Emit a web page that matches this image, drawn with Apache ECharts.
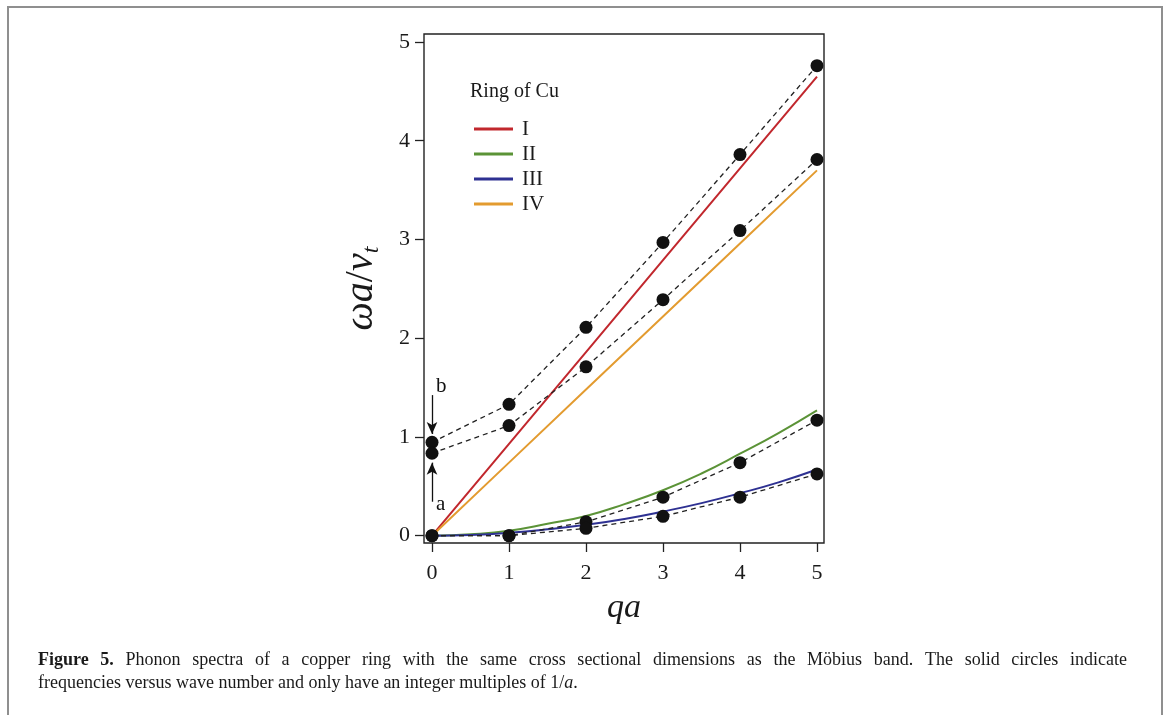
<!DOCTYPE html>
<html><head><meta charset="utf-8">
<script src="https://cdn.jsdelivr.net/npm/echarts@6/dist/echarts.min.js"></script>
<style>html,body{margin:0;padding:0;background:#fff}#c{width:1170px;height:715px}</style>
</head><body><div id="c"></div>
<script>
// ---- data ----
const qa = [0, 1, 2, 3, 4, 5];
const qaFine = [0, 0.5, 1, 1.5, 2, 2.5, 3, 3.5, 4, 4.5, 5];
const ringI = [0, 0.93, 1.86, 2.79, 3.72, 4.65];
const ringIV = [0, 0.74, 1.48, 2.22, 2.96, 3.70];
const ringII = [0, 0.015, 0.05, 0.12, 0.20, 0.32, 0.46, 0.63, 0.83, 1.04, 1.27];
const ringIII = [0, 0.008, 0.03, 0.065, 0.11, 0.17, 0.245, 0.33, 0.43, 0.54, 0.67];
const dotsB = [0.946, 1.33, 2.11, 2.97, 3.86, 4.76];
const dotsA = [0.835, 1.115, 1.71, 2.39, 3.09, 3.81];
const dotsII = [0, 0, 0.14, 0.39, 0.74, 1.17];
const dotsIII = [0, 0, 0.075, 0.196, 0.39, 0.626];
const xTicks = [0, 1, 2, 3, 4, 5];
const yTicks = [0, 1, 2, 3, 4, 5];
const xRange = [-0.104, 5.091];
const yRange = [-0.074, 5.081];
const legendNames = ['I', 'II', 'III', 'IV'];
const colors = { I: '#c1272d', II: '#5b9337', III: '#2e3192', IV: '#e39b2f' };
const arrowB = [[0, 1.424], [0, 1.03]];
const arrowA = [[0, 0.344], [0, 0.74]];
const annot = [[0, 1.507, 'b'], [0, 0.32, 'a']];
const captionLine1 = [['Figure', true], ['5.', true], ['Phonon', false], ['spectra', false], ['of', false], ['a', false], ['copper', false], ['ring', false], ['with', false], ['the', false], ['same', false], ['cross', false], ['sectional', false], ['dimensions', false], ['as', false], ['the', false], ['Möbius', false], ['band.', false], ['The', false], ['solid', false], ['circles', false], ['indicate', false]];
const captionLine2 = 'frequencies versus wave number and only have an integer multiples of 1/';

const SERIF = '"Liberation Serif", "Times New Roman", serif';
const pair = (xs, ys) => xs.map((x, i) => [x, ys[i]]);

// ---- caption layout (justified first line) ----
const capFs = 18;
const mctx = document.createElement('canvas').getContext('2d');
function mw(t, bold) {
  mctx.font = (bold ? 'bold ' : '') + capFs + 'px ' + SERIF;
  return mctx.measureText(t).width;
}
const capLeft = 38, capRight = 1127;
const wordsW = captionLine1.map(w => mw(w[0], w[1]));
const totalW = wordsW.reduce((a, b) => a + b, 0);
const gap = (capRight - capLeft - totalW) / (captionLine1.length - 1);
const capEls = [];
let cx = capLeft;
captionLine1.forEach((w, i) => {
  capEls.push({ type: 'text', x: cx, y: 660, style: { text: w[0], font: (w[1] ? 'bold ' : '') + capFs + 'px ' + SERIF, fill: '#1a1a1a', verticalAlign: 'middle', align: 'left' } });
  cx += wordsW[i] + gap;
});
capEls.push({ type: 'text', x: capLeft, y: 683, style: {
  text: '{n|' + captionLine2 + '}{i|a}{n|.}',
  verticalAlign: 'middle', align: 'left',
  rich: { n: { fontFamily: SERIF, fontSize: capFs, fill: '#1a1a1a' }, i: { fontFamily: SERIF, fontSize: capFs, fontStyle: 'italic', fill: '#1a1a1a' } }
} });

const chart = echarts.init(document.getElementById('c'), null, { renderer: 'canvas' });
const lineSeries = (name, xs, ys, smooth) => ({
  name, type: 'line', data: pair(xs, ys), symbol: 'none', smooth: smooth,
  lineStyle: { color: colors[name], width: 2 }, itemStyle: { color: colors[name] }, z: 2
});
const dotSeries = (name, ys) => ({
  name, type: 'line', data: pair(qa, ys), symbol: 'circle', symbolSize: 13,
  itemStyle: { color: '#111' }, lineStyle: { color: '#222', width: 1.3, type: [5, 4] }, z: 3
});

chart.setOption({
  animation: false,
  backgroundColor: '#fff',
  grid: { left: 424, top: 34, width: 400, height: 509, containLabel: false },
  title: { text: 'Ring of Cu', left: 470, top: 82, padding: 0, textStyle: { fontFamily: SERIF, fontSize: 20, fontWeight: 'normal', color: '#1a1a1a' } },
  legend: {
    data: legendNames, orient: 'vertical', left: 474, top: 117, itemWidth: 39, itemHeight: 3,
    icon: 'rect', itemGap: 1, padding: 0,
    textStyle: { fontFamily: SERIF, fontSize: 21, color: '#1a1a1a', lineHeight: 24, padding: [0, 0, 0, 4] }
  },
  xAxis: {
    type: 'value', min: xRange[0], max: xRange[1],
    name: '{i|qa}', nameLocation: 'middle', nameGap: 48,
    nameTextStyle: { rich: { i: { fontFamily: SERIF, fontStyle: 'italic', fontSize: 34, color: '#1a1a1a' } } },
    axisLine: { show: false, onZero: false },
    axisTick: { show: true, inside: false, length: 9, customValues: xTicks, lineStyle: { color: '#222', width: 1.3 } },
    axisLabel: { margin: 19, customValues: xTicks, fontFamily: SERIF, fontSize: 22, color: '#1a1a1a' },
    splitLine: { show: false }
  },
  yAxis: {
    type: 'value', min: yRange[0], max: yRange[1],
    name: '{i|ωa}{n|/}{i|v}{s|t}', nameLocation: 'middle', nameGap: 40, nameRotate: 90,
    nameTextStyle: { rich: {
      i: { fontFamily: SERIF, fontStyle: 'italic', fontSize: 40, color: '#1a1a1a', lineHeight: 46, verticalAlign: 'middle' },
      n: { fontFamily: SERIF, fontSize: 40, color: '#1a1a1a', lineHeight: 46, verticalAlign: 'middle' },
      s: { fontFamily: SERIF, fontStyle: 'italic', fontSize: 24, color: '#1a1a1a', lineHeight: 46, verticalAlign: 'bottom' }
    } },
    axisLine: { show: false, onZero: false },
    axisTick: { show: true, inside: false, length: 9, customValues: yTicks, lineStyle: { color: '#222', width: 1.3 } },
    axisLabel: { margin: 14, customValues: yTicks, fontFamily: SERIF, fontSize: 22, color: '#1a1a1a' },
    splitLine: { show: false }
  },
  graphic: [
    { type: 'rect', shape: { x: 8, y: 7, width: 1154, height: 760 }, style: { fill: 'none', stroke: '#8f8f8f', lineWidth: 2 }, silent: true },
    { type: 'rect', shape: { x: 424, y: 34, width: 400, height: 509 }, style: { fill: 'none', stroke: '#222', lineWidth: 1.4 }, silent: true, z: 10 }
  ].concat(capEls),
  series: [
    lineSeries('I', qa, ringI, false),
    lineSeries('II', qaFine, ringII, true),
    lineSeries('III', qaFine, ringIII, true),
    lineSeries('IV', qa, ringIV, false),
    dotSeries('b', dotsB),
    dotSeries('a', dotsA),
    dotSeries('IIdots', dotsII),
    dotSeries('IIIdots', dotsIII),
    {
      name: 'annot', type: 'scatter', data: annot, symbolSize: 0, z: 4,
      itemStyle: { opacity: 1, color: '#111' },
      label: { show: true, position: 'right', distance: 4, formatter: p => p.value[2], fontFamily: SERIF, fontSize: 21, color: '#111', opacity: 1 },
      markLine: {
        silent: true, symbol: ['none', 'arrow'], symbolSize: [8, 12], label: { show: false },
        lineStyle: { color: '#111', width: 1.3, type: 'solid', opacity: 1 },
        data: [
          [{ coord: arrowB[0] }, { coord: arrowB[1] }],
          [{ coord: arrowA[0] }, { coord: arrowA[1] }]
        ]
      }
    }
  ]
});
</script>
</body></html>
